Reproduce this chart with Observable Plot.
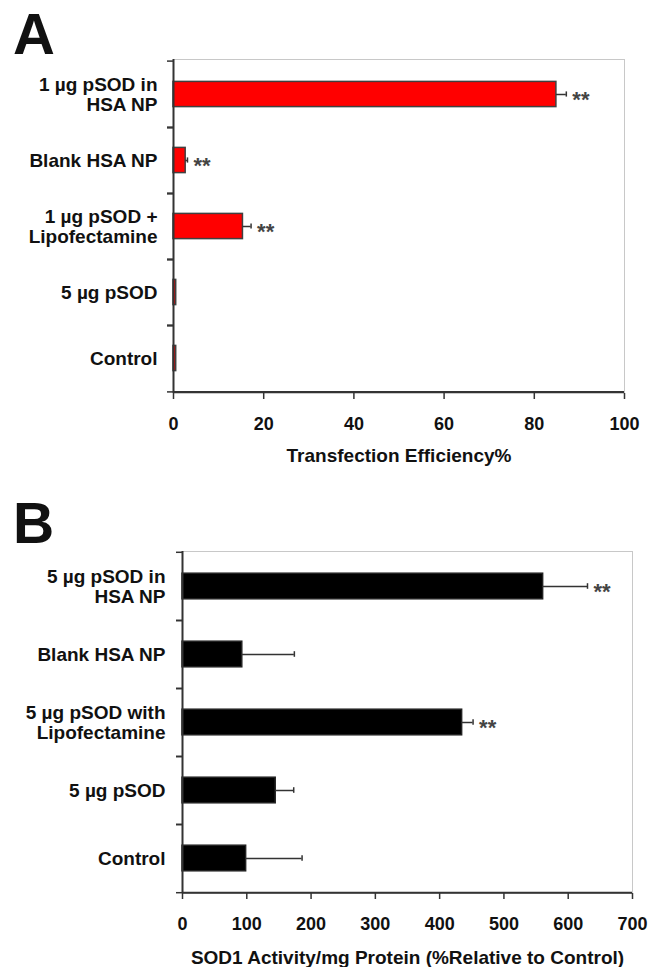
<!DOCTYPE html>
<html>
<head>
<meta charset="utf-8">
<script src="https://cdn.jsdelivr.net/npm/d3@7"></script>
<script src="https://cdn.jsdelivr.net/npm/@observablehq/plot@0.6"></script>
<style>
  html, body { margin: 0; padding: 0; background: #fff; }
  #wrap { position: relative; width: 649px; height: 967px; font-family: "Liberation Sans", Arial, sans-serif; color: #111; }
  .letter { position: absolute; left: 13px; font-weight: bold; line-height: 1; }
  #panelA, #panelB { position: absolute; left: 0; }
  #panelA { top: 0; }
  #panelB { top: 480px; }
  svg { display: block; }
</style>
</head>
<body>
<div id="wrap">
  <div id="panelA"></div>
  <div id="panelB"></div>
  <div class="letter" style="top:5.4px;font-size:58px;">A</div>
  <div class="letter" style="top:494.6px;font-size:57px;">B</div>
</div>
<script>
// ---- Panel A data ----
const catsA = ["1 µg pSOD in\nHSA NP", "Blank HSA NP", "1 µg pSOD +\nLipofectamine", "5 µg pSOD", "Control"];
const valuesA = [84.9, 2.7, 15.4, 0.6, 0.6];
const errorsA = [2.2, 0.4, 1.8, 0, 0];
const starsA = ["**", "**", "**", "", ""];
const ticksA = [0, 20, 40, 60, 80, 100];
const titleA = "Transfection Efficiency%";

// ---- Panel B data ----
const catsB = ["5 µg pSOD in\nHSA NP", "Blank HSA NP", "5 µg pSOD with\nLipofectamine", "5 µg pSOD", "Control"];
const valuesB = [561, 93, 435, 145, 99];
const errorsB = [69, 81, 17, 28, 87];
const starsB = ["**", "", "**", "", ""];
const ticksB = [0, 100, 200, 300, 400, 500, 600, 700];
const titleB = "SOD1 Activity/mg Protein (%Relative to Control)";

const FONT = '"Liberation Sans", Arial, sans-serif';

function panel({cats, values, errors, stars, ticks, xMax, height, mt, mr, mb, ml, fill, barStroke, xTitle, labelPad, titleDy}) {
  const data = cats.map((c, i) => ({cat: c, value: values[i], err: errors[i], star: stars[i]}));
  const withErr = data.filter(d => d.err > 0);
  const fh = height - mt - mb;
  const step = fh / cats.length;
  const barInset = (step - 26) / 2;
  const capInset = step / 2 - 3;
  return Plot.plot({
    width: 649,
    height,
    marginTop: mt, marginRight: mr, marginBottom: mb, marginLeft: ml,
    style: {fontFamily: FONT, color: "#111", background: "white", overflow: "visible"},
    x: {domain: [0, xMax]},
    y: {domain: cats, padding: 0},
    marks: [
      Plot.frame({stroke: "#c8c8c8"}),
      Plot.barX(data, {x: "value", y: "cat", fill, stroke: barStroke, strokeWidth: 1.5, insetTop: barInset, insetBottom: barInset}),
      Plot.ruleY(withErr, {y: "cat", x1: "value", x2: d => d.value + d.err, stroke: "#333", strokeWidth: 1.5}),
      Plot.tickX(withErr, {x: d => d.value + d.err, y: "cat", stroke: "#333", strokeWidth: 1.5, insetTop: capInset, insetBottom: capInset}),
      Plot.text(data.filter(d => d.star), {x: d => d.value + d.err, y: "cat", text: "star", dx: 6, dy: 5, textAnchor: "start", fontSize: 22, fontWeight: "bold", fill: "#444"}),
      Plot.ruleX([0], {stroke: "#333", strokeWidth: 2}),
      Plot.ruleY([cats[cats.length - 1]], {dy: step / 2, stroke: "#333", strokeWidth: 2}),
      Plot.axisY({fill: "none", stroke: "#333", strokeWidth: 1.5, tickSize: 6, dy: -step / 2}),
      Plot.axisY({fill: "none", stroke: "#333", strokeWidth: 1.5, tickSize: 6, dy: step / 2}),
      Plot.axisY({tickSize: 0, tickPadding: labelPad, fontSize: 19, fontWeight: "bold", lineHeight: 1.05, label: null, fill: "#111"}),
      Plot.axisX({ticks, tickSize: 6, tickPadding: 18, fontSize: 18, fontWeight: "bold", label: null, stroke: "#333", strokeWidth: 1.5, fill: "#111"}),
      Plot.text([xTitle], {frameAnchor: "bottom", dy: titleDy, lineAnchor: "bottom", fontSize: 19, fontWeight: "bold", fill: "#111"})
    ]
  });
}

document.getElementById("panelA").appendChild(panel({
  cats: catsA, values: valuesA, errors: errorsA, stars: starsA, ticks: ticksA, xMax: 100,
  height: 480, mt: 59, mr: 25, mb: 87, ml: 173,
  fill: "#ff0000", barStroke: "#404040", xTitle: titleA, labelPad: 16, titleDy: 68
}));

document.getElementById("panelB").appendChild(panel({
  cats: catsB, values: valuesB, errors: errorsB, stars: starsB, ticks: ticksB, xMax: 700,
  height: 487, mt: 71, mr: 17, mb: 74, ml: 182,
  fill: "#000000", barStroke: "#222", xTitle: titleB, labelPad: 17, titleDy: 70
}));
</script>
</body>
</html>
